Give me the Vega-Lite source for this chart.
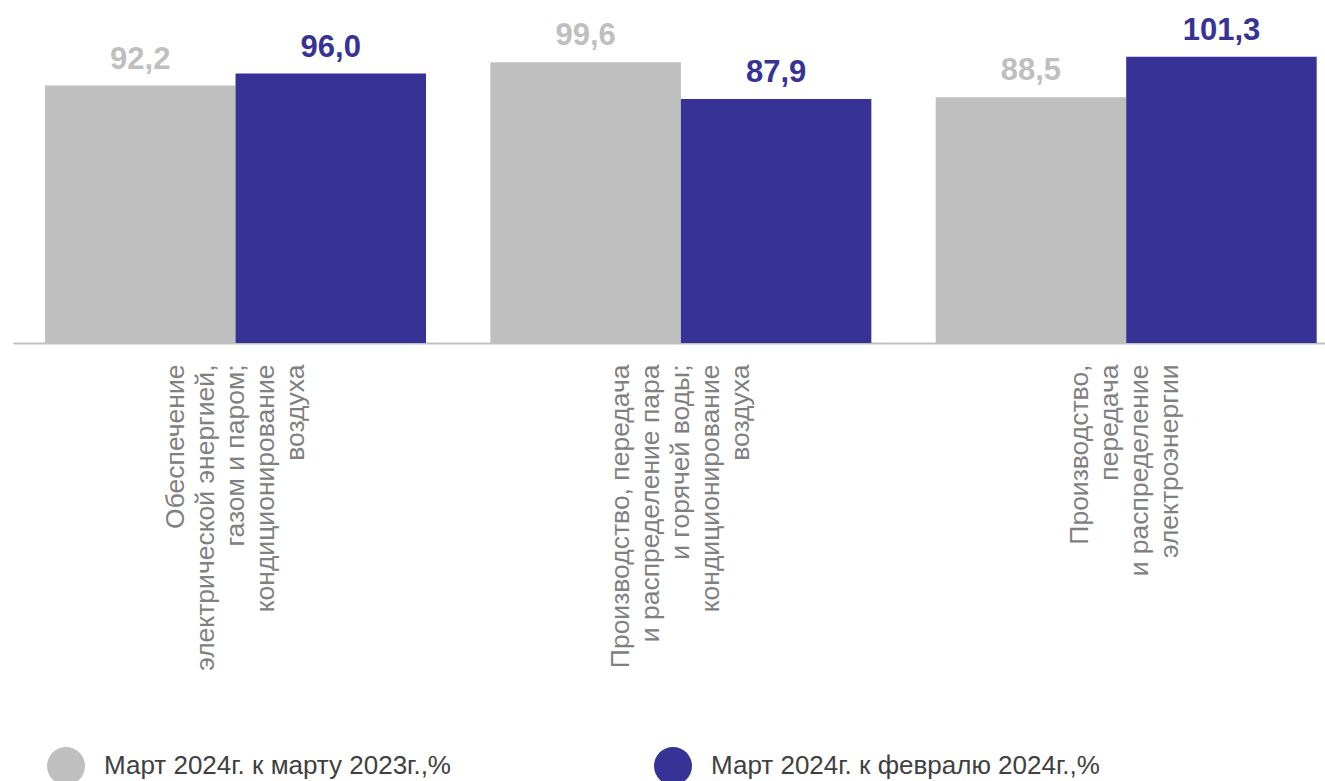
{
  "$schema": "https://vega.github.io/schema/vega-lite/v6.json",
  "width": 1312,
  "height": 343,
  "autosize": {"type": "none"},
  "padding": {"left": 13, "top": 0, "right": 0, "bottom": 438},
  "background": "white",
  "config": {
    "view": {"stroke": null},
    "font": "Liberation Sans",
    "locale": {"number": {"decimal": ",", "thousands": " ", "grouping": [3], "currency": ["", ""]}}
  },
  "data": {
    "values": [
      {"category": "Обеспечение|электрической энергией,|газом и паром;|кондиционирование|воздуха", "series": "Март 2024г. к марту 2023г.,%", "value": 92.2},
      {"category": "Обеспечение|электрической энергией,|газом и паром;|кондиционирование|воздуха", "series": "Март 2024г. к февралю 2024г.,%", "value": 96.0},
      {"category": "Производство,  передача|и распределение пара|и горячей воды;|кондиционирование|воздуха", "series": "Март 2024г. к марту 2023г.,%", "value": 99.6},
      {"category": "Производство,  передача|и распределение пара|и горячей воды;|кондиционирование|воздуха", "series": "Март 2024г. к февралю 2024г.,%", "value": 87.9},
      {"category": "Производство,|передача|и распределение|электроэнергии", "series": "Март 2024г. к марту 2023г.,%", "value": 88.5},
      {"category": "Производство,|передача|и распределение|электроэнергии", "series": "Март 2024г. к февралю 2024г.,%", "value": 101.3}
    ]
  },
  "encoding": {
    "x": {
      "field": "category",
      "type": "nominal",
      "sort": null,
      "scale": {"paddingInner": 0.1445, "paddingOuter": 0.0453, "align": 0.794},
      "axis": {
        "title": null,
        "domain": true,
        "domainColor": "#BFBFBF",
        "domainWidth": 2,
        "ticks": false,
        "labelPadding": 21,
        "labelFontSize": 26.5,
        "labelColor": "#808080",
        "labelLineHeight": 30,
        "labelAngle": 270,
        "labelAlign": "right",
        "labelBaseline": "middle",
        "labelLimit": 0,
        "labelOverlap": false,
        "labelOffset": {
          "condition": {"test": "datum.value == 'Производство,|передача|и распределение|электроэнергии'", "value": -46},
          "value": -60
        },
        "labelExpr": "split(datum.label, '|')"
      }
    },
    "xOffset": {
      "field": "series",
      "type": "nominal",
      "sort": null,
      "scale": {"paddingInner": 0, "paddingOuter": 0}
    },
    "y": {
      "field": "value",
      "type": "quantitative",
      "scale": {"domain": [10.6, 119.3], "zero": false, "nice": false},
      "axis": null
    },
    "color": {
      "field": "series",
      "type": "nominal",
      "sort": null,
      "scale": {
        "domain": ["Март 2024г. к марту 2023г.,%", "Март 2024г. к февралю 2024г.,%"],
        "range": ["#BFBFBF", "#373296"]
      },
      "legend": {
        "orient": "none",
        "legendX": 34,
        "legendY": 747,
        "direction": "horizontal",
        "title": null,
        "padding": 0,
        "symbolType": "circle",
        "symbolSize": 1444,
        "symbolOpacity": 1,
        "symbolStrokeWidth": 0,
        "labelFontSize": 26,
        "labelColor": "#404040",
        "labelOffset": 19,
        "labelLimit": 0,
        "columnPadding": 203
      }
    }
  },
  "layer": [
    {"mark": {"type": "bar", "clip": true}},
    {
      "mark": {"type": "text", "baseline": "alphabetic", "dy": -17, "fontSize": 31, "fontWeight": "bold"},
      "encoding": {"text": {"field": "value", "type": "quantitative", "format": ".1f"}}
    }
  ]
}
